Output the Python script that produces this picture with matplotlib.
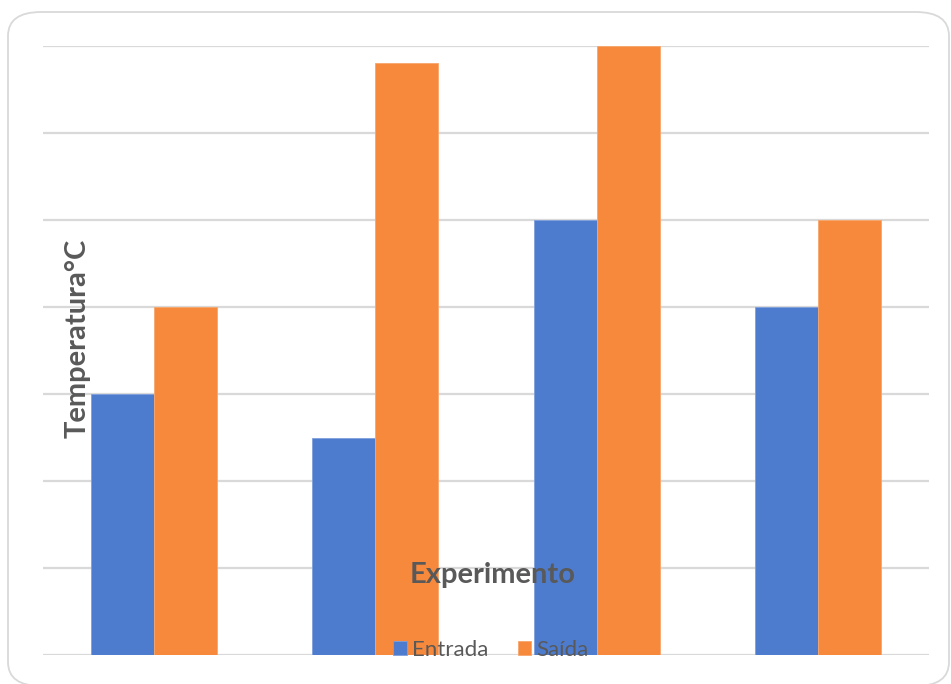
import numpy as np
import matplotlib
matplotlib.use('Agg')
import matplotlib.pyplot as plt
from matplotlib.patches import FancyBboxPatch

# data (grid step = 10, no tick labels shown)
experimentos = ['1', '2', '3', '4']
entrada = [30, 25, 50, 40]
saida = [40, 68, 70, 50]
grid_vals = [0, 10, 20, 30, 40, 50, 60, 70]

azul = '#4D7CCF'
laranja = '#F6893C'
cinza = '#595959'

W, H = 951, 684
fig = plt.figure(figsize=(W/100., H/100.), dpi=100)

# rounded frame of the chart area (bottom edge sits at the image border)
frame = FancyBboxPatch((8./W, (H - 686.)/H), 941./W, 674./H,
                       boxstyle='round,pad=0,rounding_size=0.035',
                       transform=fig.transFigure, facecolor='none',
                       edgecolor='#d9d9d9', linewidth=1.3, clip_on=False)
fig.patches.append(frame)

ax = fig.add_axes([43./W, (H - 655.)/H, (929. - 43.)/W, (655. - 46.)/H])
x = np.arange(len(experimentos))
w = 63/221.5

ax.bar(x - w/2, entrada, width=w, color=azul, edgecolor='#7fa0dc', linewidth=0.6, zorder=3, label='Entrada')
ax.bar(x + w/2, saida, width=w, color=laranja, edgecolor='#f8a66c', linewidth=0.6, zorder=3, label='Saída')

for g in grid_vals:
    ax.axhline(g, color='#d9d9d9', linewidth=1.6, zorder=1)

ax.set_xlim(-0.5, len(experimentos) - 0.5)
ax.set_ylim(0, 70)
ax.set_xticks([])
ax.set_yticks([])
for s in ax.spines.values():
    s.set_visible(False)
ax.patch.set_alpha(0)

# axis titles sit inside the plot area, as in the original
fig.text(78./W, 1 - 338./H, 'Temperatura°C', rotation=90, family='Lato',
         weight='bold', fontsize=21, color=cinza, ha='center', va='center')
fig.text(493./W, 1 - 575./H, 'Experimento', family='Lato',
         weight='bold', fontsize=21, color=cinza, ha='center', va='center', zorder=5)

leg = ax.legend(loc='center', bbox_to_anchor=(491./W, 1 - 650./H),
                bbox_transform=fig.transFigure, ncol=2, frameon=False,
                prop={'family': 'Lato', 'size': 16}, handlelength=0.6,
                handleheight=0.6, handletextpad=0.25, columnspacing=1.3)
for t in leg.get_texts():
    t.set_color(cinza)
leg.set_zorder(5)

fig.savefig('out.png', dpi=100)
